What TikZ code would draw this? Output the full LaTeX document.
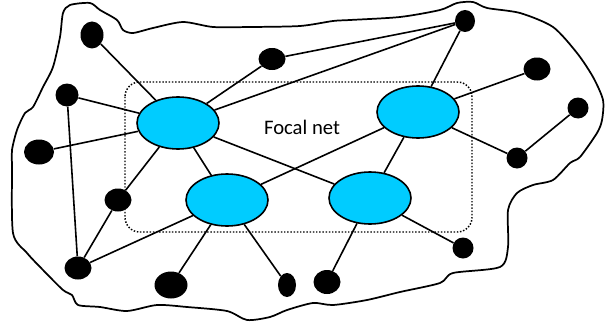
\documentclass[tikz,border=0pt]{standalone}
\usepackage{fontspec}
\setmainfont{Carlito}
\usetikzlibrary{shapes.geometric}
\definecolor{focalblue}{RGB}{0,204,255}
\begin{document}
\begin{tikzpicture}[x=0.75pt, y=-0.75pt,
    focal/.style={ellipse, draw, line width=1.2pt, fill=focalblue, inner sep=0pt,
                  minimum width=61.5pt, minimum height=39pt},
    actor/.style={ellipse, fill=black, inner sep=0pt},
    link/.style={line width=1.2pt}]
    \useasboundingbox (0,0) rectangle (605,321);
    % boundary of the whole net
    \draw[line width=1.3pt] plot[smooth cycle, tension=0.45] coordinates {
      (63,13) (70,5) (90,3) (100,10) (117,20) (123,30) (133,33) (153,28)
      (183,22) (213,27) (250,27) (300,26) (333,21) (350,20) (400,17) (440,10)
      (457,3) (473,2) (487,8) (520,13) (553,27) (577,53) (593,77) (603,100)
      (602,120) (597,133) (580,157) (570,163) (553,180) (533,185) (517,193)
      (508,210) (508,247) (500,267) (453,273) (440,283) (400,292) (367,300)
      (333,305) (313,303) (287,310) (270,317) (247,320) (227,311) (187,307)
      (157,305) (127,311) (100,307) (78,305) (72,295) (63,290) (43,270)
      (27,253) (13,233) (12,167) (12,150) (17,130) (25,113) (33,107)
      (43,87) (53,67) (60,37)};
    % focal net box
    \draw[line width=1.1pt, dash pattern=on 1.1pt off 1.3pt, rounded corners=11pt]
      (125,82) rectangle (472,232);
    \node (label) at (302,127) {\fontsize{15.5pt}{18pt}\selectfont Focal net};
    % focal actors
    \node[focal] (f1) at (178,123) {};
    \node[focal] (f2) at (227,200) {};
    \node[focal] (f3) at (418,112) {};
    \node[focal] (f4) at (370,198) {};
    % other actors
    \foreach \n/\x/\y/\w/\h in {a1/92/35/23/27, a2/67/95/23/23, a3/39/152/30/25,
        a4/118/200/27/23, a5/78/268/27/23, a6/171/285/33/27, a7/287/285/18/24,
        a8/272/59/27/22, a9/465/21/20/22, a10/537/69/27/23, a11/578/108/21/21,
        a12/517/158/21/21, a13/463/248/21/21, a14/327/282/27/24}
      \node[actor, minimum width=\w*0.75pt, minimum height=\h*0.75pt] (\n) at (\x,\y) {};
    % ties
    \foreach \a/\b in {a1/f1, a2/f1, a3/f1, a4/f1, a2/a5, a4/a5, a5/f2, f1/f2,
        f1/a8, f1/a9, a8/a9, f1/f4, f2/f3, f2/a6, f2/a7, f3/a9, f3/a10,
        f3/a12, a11/a12, f3/f4, f4/a13, f4/a14}
      \draw[link] (\a) -- (\b);
\end{tikzpicture}
\end{document}
